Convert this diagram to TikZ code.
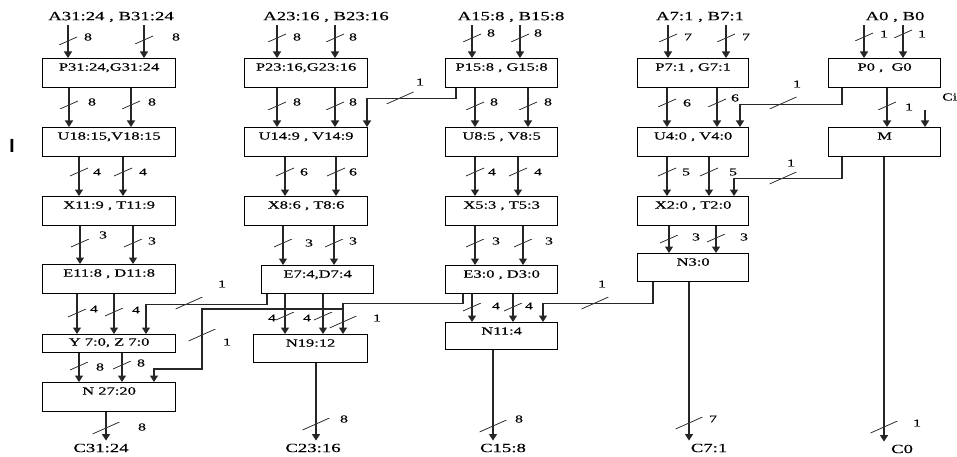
\documentclass[tikz,border=0pt]{standalone}
\usepackage{fontspec}
\setmainfont{Liberation Serif}
\newfontfamily\stretchfont[FakeStretch=1.5,FakeBold=0.35]{Liberation Serif}
\newfontfamily\barfont{Liberation Sans}
\usetikzlibrary{arrows.meta}
\newcommand\bm[6]{\node[busmark] (#1) at (#2,#3) {}; \node[num] (#1t) at (#5,#6) {#4};}
\newcommand\bml[6]{\node[longbus] (#1) at (#2,#3) {}; \node[num] (#1t) at (#5,#6) {#4};}
\begin{document}
\begin{tikzpicture}[x=1pt,y=-1pt,
  box/.style={draw=black, line width=1.2pt, anchor=north west, inner xsep=0pt, inner ysep=0pt, text height=12pt, font=\stretchfont\fontsize{11}{11}\selectfont},
  conn/.style={draw=black!85, line width=1.3pt, -{Triangle[width=8pt,length=6.5pt]}},
  busmark/.style={minimum width=18pt, minimum height=8pt, inner sep=0pt, path picture={\draw[line width=0.8pt, black!80] (path picture bounding box.south west) -- (path picture bounding box.north east);}},
  longbus/.style={busmark, minimum width=27pt, minimum height=12pt},
  num/.style={font=\stretchfont\fontsize{10.5}{10.5}\selectfont, inner sep=0pt},
  io/.style={font=\stretchfont\fontsize{12.5}{12.5}\selectfont, inner xsep=1pt, inner ysep=3pt},
]
\useasboundingbox (0,0) rectangle (957,457);

% top labels
\node[io] (a1) at (111,17) {A31:24 , B31:24};
\node[io] (a2) at (326,17) {A23:16 , B23:16};
\node[io] (a3) at (511,17) {A15:8 , B15:8};
\node[io] (a4) at (700,17) {A7:1 , B7:1};
\node[io] (a5) at (895,17) {A0 , B0};
% bottom labels
\node[io] (c1) at (101,448) {C31:24};
\node[io] (c2) at (313,448) {C23:16};
\node[io] (c3) at (503,448) {C15:8};
\node[io] (c4) at (709,448) {C7:1};
\node[io] (c5) at (902,449) {C0};
\node[font=\barfont\bfseries\fontsize{19}{19}\selectfont, inner sep=0pt] (bar) at (12,146) {I};
\node[num, anchor=west] (cil) at (942,97) {Ci};

% column 1
\node[box, minimum width=133pt, text depth=17pt] (p1) at (42,58) {P31:24,G31:24};
\node[box, minimum width=133pt, text depth=17pt] (u1) at (42,127) {U18:15,V18:15};
\node[box, minimum width=133pt, text depth=17pt] (x1) at (42,196) {X11:9 , T11:9};
\node[box, minimum width=133pt, text depth=17pt] (e1) at (42,264) {E11:8 , D11:8};
\node[box, minimum width=133pt, text height=11pt, text depth=7pt] (y1) at (42,334) {Y 7:0, Z 7:0};
\node[box, minimum width=133pt, text depth=17pt] (n1) at (42,382) {N 27:20};
% column 2
\node[box, minimum width=123pt, text depth=17pt] (p2) at (244,58) {P23:16,G23:16};
\node[box, minimum width=123pt, text depth=17pt] (u2) at (244,127) {U14:9 , V14:9};
\node[box, minimum width=123pt, text depth=17pt] (x2) at (244,196) {X8:6 , T8:6};
\node[box, minimum width=112pt, text depth=16pt] (e2) at (261,265) {E7:4,D7:4};
\node[box, minimum width=114pt, text depth=16pt] (n2) at (253,334) {N19:12};
% column 3
\node[box, minimum width=112pt, text depth=17pt] (p3) at (445,58) {P15:8 , G15:8};
\node[box, minimum width=112pt, text depth=17pt] (u3) at (445,127) {U8:5 , V8:5};
\node[box, minimum width=112pt, text depth=17pt] (x3) at (445,196) {X5:3 , T5:3};
\node[box, minimum width=112pt, text depth=16pt] (e3) at (445,265) {E3:0 , D3:0};
\node[box, minimum width=112pt, text depth=15pt] (n3) at (445,322) {N11:4};
% column 4
\node[box, minimum width=111pt, text depth=17pt] (p4) at (637,58) {P7:1 , G7:1};
\node[box, minimum width=111pt, text depth=17pt] (u4) at (637,127) {U4:0 , V4:0};
\node[box, minimum width=111pt, text depth=17pt] (x4) at (637,196) {X2:0 , T2:0};
\node[box, minimum width=111pt, text depth=16pt] (n4) at (637,253) {N3:0};
% column 5
\node[box, minimum width=112pt, text depth=17pt] (p5) at (828,58) {P0 , \ G0};
\node[box, minimum width=112pt, text depth=17pt] (m5) at (828,127) {M};

% column 1 connectors
\draw[conn] (a1.south -| 68,0) -- (p1.north -| 68,0);
\draw[conn] (a1.south -| 144,0) -- (p1.north -| 144,0);
\draw[conn] (p1.south -| 69,0) -- (u1.north -| 69,0);
\draw[conn] (p1.south -| 131,0) -- (u1.north -| 131,0);
\draw[conn] (u1.south -| 79,0) -- (x1.north -| 79,0);
\draw[conn] (u1.south -| 123,0) -- (x1.north -| 123,0);
\draw[conn] (x1.south -| 80,0) -- (e1.north -| 80,0);
\draw[conn] (x1.south -| 133,0) -- (e1.north -| 133,0);
\draw[conn] (e1.south -| 77,0) -- (y1.north -| 77,0);
\draw[conn] (e1.south -| 114,0) -- (y1.north -| 114,0);
\draw[conn] (y1.south -| 79,0) -- (n1.north -| 79,0);
\draw[conn] (y1.south -| 122,0) -- (n1.north -| 122,0);
\draw[conn] (n1.south -| 106,0) -- (c1.north -| 106,0);
% column 2 connectors
\draw[conn] (a2.south -| 277,0) -- (p2.north -| 277,0);
\draw[conn] (a2.south -| 335,0) -- (p2.north -| 335,0);
\draw[conn] (p2.south -| 277,0) -- (u2.north -| 277,0);
\draw[conn] (p2.south -| 335,0) -- (u2.north -| 335,0);
\draw[conn] (u2.south -| 285,0) -- (x2.north -| 285,0);
\draw[conn] (u2.south -| 336,0) -- (x2.north -| 336,0);
\draw[conn] (x2.south -| 283,0) -- (e2.north -| 283,0);
\draw[conn] (x2.south -| 334,0) -- (e2.north -| 334,0);
\draw[conn] (e2.south -| 285,0) -- (n2.north -| 285,0);
\draw[conn] (e2.south -| 323,0) -- (n2.north -| 323,0);
\draw[conn] (n2.south -| 316,0) -- (c2.north -| 316,0);
% column 3 connectors
\draw[conn] (a3.south -| 472,0) -- (p3.north -| 472,0);
\draw[conn] (a3.south -| 520,0) -- (p3.north -| 520,0);
\draw[conn] (p3.south -| 475,0) -- (u3.north -| 475,0);
\draw[conn] (p3.south -| 528,0) -- (u3.north -| 528,0);
\draw[conn] (u3.south -| 475,0) -- (x3.north -| 475,0);
\draw[conn] (u3.south -| 518,0) -- (x3.north -| 518,0);
\draw[conn] (x3.south -| 475,0) -- (e3.north -| 475,0);
\draw[conn] (x3.south -| 523,0) -- (e3.north -| 523,0);
\draw[conn] (e3.south -| 472,0) -- (n3.north -| 472,0);
\draw[conn] (e3.south -| 513,0) -- (n3.north -| 513,0);
\draw[conn] (n3.south -| 493,0) -- (c3.north -| 493,0);
% column 4 connectors
\draw[conn] (a4.south -| 668,0) -- (p4.north -| 668,0);
\draw[conn] (a4.south -| 726,0) -- (p4.north -| 726,0);
\draw[conn] (p4.south -| 667,0) -- (u4.north -| 667,0);
\draw[conn] (p4.south -| 717,0) -- (u4.north -| 717,0);
\draw[conn] (u4.south -| 667,0) -- (x4.north -| 667,0);
\draw[conn] (u4.south -| 709,0) -- (x4.north -| 709,0);
\draw[conn] (x4.south -| 669,0) -- (n4.north -| 669,0);
\draw[conn] (x4.south -| 716,0) -- (n4.north -| 716,0);
\draw[conn] (n4.south -| 689,0) -- (c4.north -| 689,0);
% column 5 connectors
\draw[conn] (a5.south -| 864,0) -- (p5.north -| 864,0);
\draw[conn] (a5.south -| 903,0) -- (p5.north -| 903,0);
\draw[conn] (p5.south -| 887,0) -- (m5.north -| 887,0);
\coordinate (ci) at (925,110);
\draw[conn] (ci) -- (m5.north -| ci);
\draw[conn] (m5.south -| 884,0) -- (c5.north -| 884,0);

% cross connections
\draw[conn] (p3.south -| 456,0) -- ++(0,10) -| (u2.north -| 367,0);
\draw[conn] (e2.south -| 267,0) -- ++(0,10) -| (y1.north -| 146,0);
\draw[conn] (e3.south -| 463,0) -- ++(0,9) -| (n2.north -| 343,0);
\coordinate (j3) at (343,309);
\draw[conn] (j3) -| (202,369) -| (n1.north -| 154,0);
\draw[conn] (n4.south -| 653,0) -- ++(0,21) -| (n3.north -| 543,0);
\draw[conn] (p5.south -| 842,0) -- ++(0,16) -| (u4.north -| 740,0);
\draw[conn] (m5.south -| 842,0) -- ++(0,21) -| (x4.north -| 734,0);

% bus width marks
\bm{k11}{68}{41}{8}{88}{37}
\bm{k12}{144}{40}{8}{176}{37}
\bm{k13}{69}{105}{8}{92}{102}
\bm{k14}{131}{105}{8}{152}{102}
\bm{k15}{79}{172}{4}{97}{172}
\bm{k16}{123}{172}{4}{143}{172}
\bm{k17}{80}{243}{3}{103}{235}
\bm{k18}{133}{243}{3}{152}{241}
\bm{k19}{77}{313}{4}{94}{309}
\bm{k1a}{114}{312}{4}{136}{310}
\bm{k1b}{79}{366}{8}{100}{367}
\bm{k1c}{122}{365}{8}{141}{363}
\bml{k1d}{106}{428}{8}{142}{427}
\bml{k1e}{189}{303}{1}{222}{284}
\bml{k1f}{202}{335}{1}{227}{342}

\bm{k21}{277}{38}{8}{297}{37}
\bm{k22}{335}{38}{8}{353}{37}
\bm{k23}{277}{106}{8}{297}{102}
\bm{k24}{335}{106}{8}{353}{102}
\bm{k25}{285}{172}{6}{304}{172}
\bm{k26}{336}{172}{6}{353}{172}
\bm{k27}{283}{243}{3}{309}{243}
\bm{k28}{334}{243}{3}{353}{241}
\bm{k29}{285}{316}{4}{272}{318}
\bm{k2a}{323}{316}{4}{307}{318}
\bml{k2b}{343}{322}{1}{377}{318}
\bml{k2c}{316}{424}{8}{344}{419}
\bml{k2d}{400}{98}{1}{420}{82}

\bm{k31}{472}{38}{8}{491}{33}
\bm{k32}{520}{38}{8}{538}{33}
\bm{k33}{475}{106}{8}{494}{102}
\bm{k34}{528}{106}{8}{548}{102}
\bm{k35}{475}{172}{4}{492}{172}
\bm{k36}{518}{172}{4}{538}{172}
\bm{k37}{475}{243}{3}{496}{241}
\bm{k38}{523}{243}{3}{549}{241}
\bm{k39}{472}{307}{4}{496}{306}
\bm{k3a}{513}{307}{4}{529}{306}
\bml{k3b}{595}{303}{1}{602}{284}
\bml{k3c}{493}{426}{8}{519}{419}

\bm{k41}{668}{38}{7}{688}{37}
\bm{k42}{726}{38}{7}{746}{37}
\bm{k43}{667}{103}{6}{687}{103}
\bm{k44}{717}{103}{6}{735}{98}
\bml{k45}{783}{103}{1}{797}{84}
\bm{k46}{667}{172}{5}{686}{172}
\bm{k47}{709}{172}{5}{733}{172}
\bml{k48}{783}{178}{1}{791}{163}
\bm{k49}{669}{239}{3}{696}{237}
\bm{k4a}{716}{238}{3}{744}{237}
\bml{k4b}{689}{423}{7}{713}{419}

\bm{k51}{864}{37}{1}{884}{34}
\bm{k52}{903}{34}{1}{922}{34}
\bm{k53}{887}{106}{1}{909}{107}
\bml{k54}{884}{427}{1}{917}{423}
\end{tikzpicture}
\end{document}
